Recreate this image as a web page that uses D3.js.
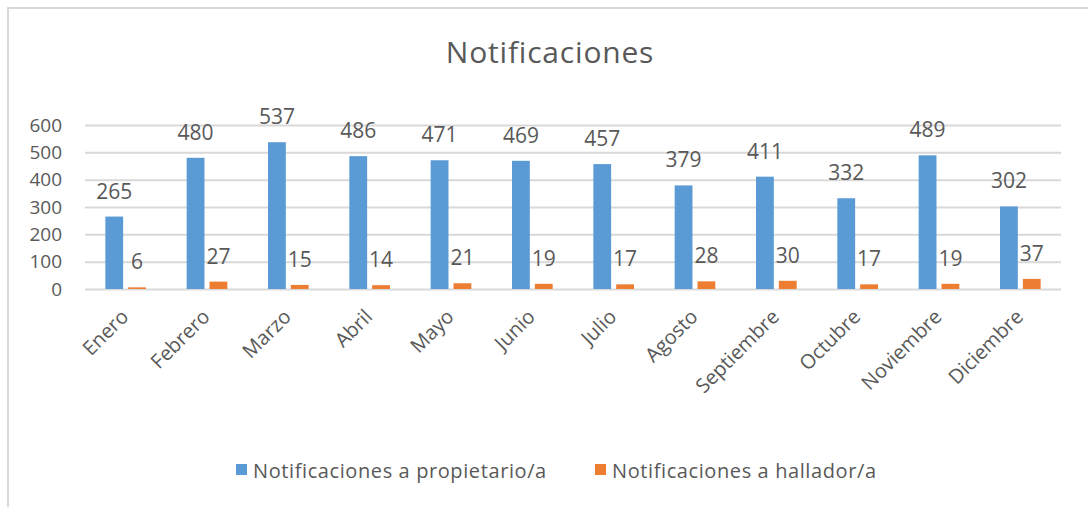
<!DOCTYPE html>
<html lang="es">
<head>
<meta charset="utf-8">
<title>Notificaciones</title>
<script src="https://cdn.jsdelivr.net/npm/d3@7"></script>
<style>
  body { margin: 0; background: #fff; }
  text { font-family: "Open Sans", sans-serif; fill: #595959; }
</style>
</head>
<body>
<div id="chart"></div>
<script>
var months = ["Enero", "Febrero", "Marzo", "Abril", "Mayo", "Junio", "Julio",
              "Agosto", "Septiembre", "Octubre", "Noviembre", "Diciembre"];
var propietario = [265, 480, 537, 486, 471, 469, 457, 379, 411, 332, 489, 302];
var hallador = [6, 27, 15, 14, 21, 19, 17, 28, 30, 17, 19, 37];
var seriesNames = ["Notificaciones a propietario/a", "Notificaciones a hallador/a"];
var seriesColors = ["#5b9bd5", "#ed7d31"];
var yTicks = [0, 100, 200, 300, 400, 500, 600];

var w = 1088, h = 507;
var plotLeft = 85, plotRight = 1061, plotTop = 125, plotBottom = 289;

var svg = d3.select("#chart").append("svg")
  .attr("width", w).attr("height", h);

// frame
svg.append("path")
  .attr("d", "M8," + h + "V8H" + w)
  .attr("fill", "none").attr("stroke", "#d9d9d9").attr("stroke-width", 2);

// title
svg.append("text")
  .attr("x", 550).attr("y", 63)
  .attr("text-anchor", "middle")
  .style("font-size", "30px")
  .style("letter-spacing", "0.8px")
  .text("Notificaciones");

var x0 = d3.scaleBand().domain(months).range([plotLeft, plotRight])
  .paddingInner(0.5).paddingOuter(0.25);
var x1 = d3.scaleBand().domain([0, 1]).range([0, x0.bandwidth()]).paddingInner(0.22);
var y = d3.scaleLinear().domain([0, 600]).range([plotBottom, plotTop]);

// gridlines + y labels
var yAxis = svg.append("g")
  .attr("transform", "translate(" + plotLeft + ",0)")
  .call(d3.axisLeft(y).tickValues(yTicks).tickSize(-(plotRight - plotLeft)).tickPadding(23));
yAxis.select(".domain").remove();
yAxis.selectAll("line").attr("stroke", "#d9d9d9").attr("stroke-width", 2);
yAxis.selectAll("text").style("font-size", "19px").attr("fill", "#595959");

// x axis labels
var xAxis = svg.append("g")
  .attr("transform", "translate(0," + plotBottom + ")")
  .call(d3.axisBottom(x0).tickSize(0).tickPadding(0));
xAxis.select(".domain").remove();
xAxis.selectAll("text")
  .style("font-size", "20px").attr("fill", "#595959")
  .attr("text-anchor", "end")
  .attr("dy", null).attr("y", 0)
  .attr("transform", "translate(4,29) rotate(-45)");

var data = [propietario, hallador];

var groups = svg.selectAll(".serie")
  .data(data).enter().append("g").attr("class", "serie");

groups.selectAll("rect")
  .data(function(d, s) { return d.map(function(v, i) { return {s: s, i: i, v: v}; }); })
  .enter().append("rect")
  .attr("x", function(d) { return x0(months[d.i]) + x1(d.s); })
  .attr("y", function(d) { return y(d.v); })
  .attr("width", x1.bandwidth())
  .attr("height", function(d) { return plotBottom - y(d.v); })
  .attr("fill", function(d) { return seriesColors[d.s]; });

groups.selectAll("text")
  .data(function(d, s) { return d.map(function(v, i) { return {s: s, i: i, v: v}; }); })
  .enter().append("text")
  .attr("x", function(d) { return x0(months[d.i]) + x1(d.s) + x1.bandwidth() / 2; })
  .attr("y", function(d) { return y(d.v) - 18; })
  .attr("text-anchor", "middle")
  .style("font-size", "21px")
  .text(function(d) { return d.v; });

// legend
var legendX = [236, 595];
var legend = svg.selectAll(".legend")
  .data(seriesNames).enter().append("g")
  .attr("transform", function(d, i) { return "translate(" + legendX[i] + ",478)"; });
legend.append("rect")
  .attr("x", 0).attr("y", -14).attr("width", 11).attr("height", 11)
  .attr("fill", function(d, i) { return seriesColors[i]; });
legend.append("text")
  .attr("x", 17).attr("y", 0)
  .style("font-size", "20px")
  .style("letter-spacing", "0.6px")
  .text(function(d) { return d; });
</script>
</body>
</html>
